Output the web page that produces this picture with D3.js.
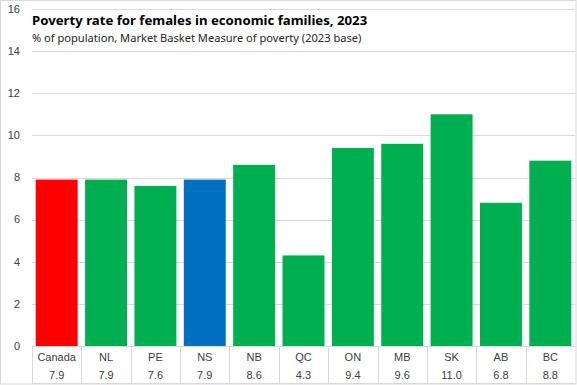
<!DOCTYPE html>
<html>
<head>
<meta charset="utf-8">
<script src="https://cdn.jsdelivr.net/npm/d3@7"></script>
<style>
  body { margin: 0; background: #fff; }
  text { font-family: "Liberation Sans", Arial, sans-serif; }
</style>
</head>
<body>
<div id="chart"></div>
<script>
// Chart data
const regions = ["Canada", "NL", "PE", "NS", "NB", "QC", "ON", "MB", "SK", "AB", "BC"];
const rates = [7.9, 7.9, 7.6, 7.9, 8.6, 4.3, 9.4, 9.6, 11.0, 6.8, 8.8];
const barColors = ["#ff0000", "#00b050", "#00b050", "#0070c0", "#00b050", "#00b050",
                   "#00b050", "#00b050", "#00b050", "#00b050", "#00b050"];
const yTicks = [0, 2, 4, 6, 8, 10, 12, 14, 16];

const title = "Poverty rate for females in economic families, 2023";
const subtitle = "% of population, Market Basket Measure of poverty (2023 base)";

let width = 577, height = 385;
let margin = { top: 9, bottom: 39, left: 32, right: 2 };

let svg = d3.select("#chart")
  .append("svg")
  .attr("width", width)
  .attr("height", height);

// outer border
svg.append("rect")
  .attr("x", 0.5).attr("y", 0.5)
  .attr("width", width - 1.5).attr("height", height - 1.5)
  .attr("fill", "#fff")
  .attr("stroke", "#d9d9d9");

let x = d3.scaleBand()
  .domain(regions)
  .range([margin.left, width - margin.right])
  .paddingInner(0.15)
  .paddingOuter(0.075);

let xCell = d3.scaleBand()
  .domain(regions)
  .range([margin.left, width - margin.right]);

let y = d3.scaleLinear()
  .domain([0, 16])
  .range([height - margin.bottom, margin.top]);

// gridlines
svg.append("g")
  .selectAll("line")
  .data(yTicks.filter(d => d > 0))
  .join("line")
  .attr("x1", margin.left)
  .attr("x2", width - margin.right)
  .attr("y1", d => Math.round(y(d)) + 0.5)
  .attr("y2", d => Math.round(y(d)) + 0.5)
  .attr("stroke", "#d9d9d9");

// y tick labels
svg.append("g")
  .selectAll("text")
  .data(yTicks)
  .join("text")
  .attr("x", 20)
  .attr("y", d => y(d))
  .attr("dy", "0.35em")
  .attr("text-anchor", "end")
  .attr("font-size", 11)
  .attr("fill", "#404040")
  .text(d => d);

// bars
svg.append("g")
  .selectAll("rect")
  .data(regions)
  .join("rect")
  .attr("x", d => x(d))
  .attr("y", (d, i) => y(rates[i]))
  .attr("width", x.bandwidth())
  .attr("height", (d, i) => y(0) - y(rates[i]))
  .attr("fill", (d, i) => barColors[i]);

// axis line
svg.append("line")
  .attr("x1", margin.left)
  .attr("x2", width - margin.right)
  .attr("y1", Math.round(y(0)) + 0.5)
  .attr("y2", Math.round(y(0)) + 0.5)
  .attr("stroke", "#d9d9d9");

// data table below the axis
let tableTop = y(0), tableBottom = height - 2;
let table = svg.append("g");

table.selectAll("line.col")
  .data(regions)
  .join("line")
  .attr("class", "col")
  .attr("x1", d => Math.round(xCell(d)) + 0.5)
  .attr("x2", d => Math.round(xCell(d)) + 0.5)
  .attr("y1", tableTop)
  .attr("y2", tableBottom)
  .attr("stroke", "#d9d9d9");

table.append("line")
  .attr("x1", margin.left)
  .attr("x2", width - margin.right)
  .attr("y1", tableBottom + 0.5)
  .attr("y2", tableBottom + 0.5)
  .attr("stroke", "#d9d9d9");

table.selectAll("text.cat")
  .data(regions)
  .join("text")
  .attr("class", "cat")
  .attr("x", d => xCell(d) + xCell.bandwidth() / 2)
  .attr("y", 357)
  .attr("dy", "0.35em")
  .attr("text-anchor", "middle")
  .attr("font-size", 11)
  .attr("fill", "#404040")
  .text(d => d);

table.selectAll("text.val")
  .data(regions)
  .join("text")
  .attr("class", "val")
  .attr("x", d => xCell(d) + xCell.bandwidth() / 2)
  .attr("y", 375)
  .attr("dy", "0.35em")
  .attr("text-anchor", "middle")
  .attr("font-size", 11)
  .attr("fill", "#404040")
  .text((d, i) => rates[i].toFixed(1));

// titles
svg.append("text")
  .attr("x", 32)
  .attr("y", 25)
  .style("font-family", "'Noto Sans', sans-serif")
  .attr("font-weight", "bold")
  .attr("font-size", 13.2)
  .attr("fill", "#000")
  .text(title);

svg.append("text")
  .attr("x", 32)
  .attr("y", 42)
  .style("font-family", "'Noto Sans', sans-serif")
  .attr("font-size", 11.1)
  .attr("fill", "#262626")
  .text(subtitle);
</script>
</body>
</html>
